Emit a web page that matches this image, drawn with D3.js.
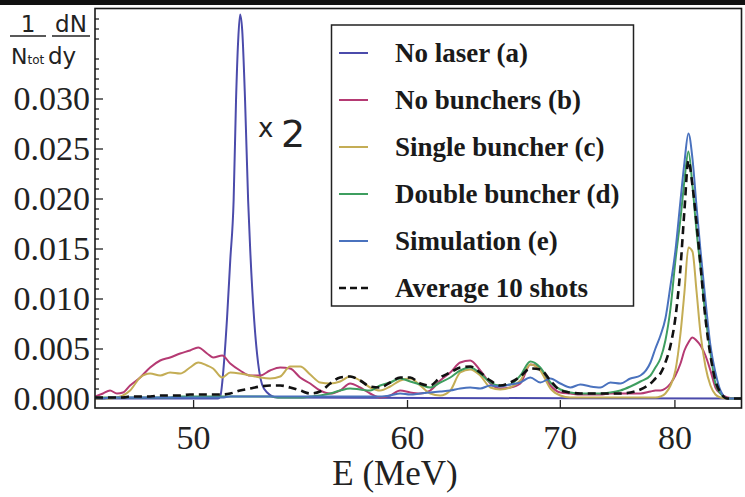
<!DOCTYPE html>
<html>
<head>
<meta charset="utf-8">
<script src="https://cdn.jsdelivr.net/npm/d3@7"></script>
<style>
  html, body { margin: 0; padding: 0; background: #fff; }
  svg { display: block; }
  .serif { font-family: "Liberation Serif", "Times New Roman", serif; fill: #222; }
  .legend-label { font-family: "Liberation Serif", "Times New Roman", serif; font-weight: bold; font-size: 27px; fill: #1a1a1a; }
  .sans { font-family: "DejaVu Sans", sans-serif; fill: #222; }
</style>
</head>
<body>
<svg id="chart" width="745" height="497"></svg>
<script>
// Electron energy spectra, E axis is spaced as 1/E
const energy = [46.45, 46.72, 46.96, 47.20, 47.41, 47.66, 48.02, 48.38, 48.75, 49.12,
  49.50, 49.88, 50.20, 50.55, 50.79, 51.16, 51.49, 51.90, 52.33, 52.76,
  53.19, 53.64, 54.09, 54.55, 55.02, 55.49, 55.98, 56.47, 56.97, 57.48,
  58.00, 58.53, 59.07, 59.62, 60.18, 60.75, 61.33, 61.92, 62.53, 63.14,
  63.77, 64.41, 65.07, 65.73, 66.41, 67.11, 67.82, 68.54, 69.29, 70.04,
  70.81, 71.60, 72.41, 73.24, 74.09, 74.95, 75.84, 76.75, 77.68, 78.15,
  78.63, 79.11, 79.61, 80.10, 80.61, 81.01, 81.42, 81.84, 82.26, 82.69,
  83.22, 83.76, 84.31, 84.87, 85.67, 86.59, 87.30];

const noBunchers = [0.0002, 0.0005, 0.0008, 0.0005, 0.0006, 0.0013, 0.0021, 0.0031, 0.0038, 0.0041,
  0.0045, 0.0048, 0.0051, 0.0045, 0.0041, 0.0043, 0.0035, 0.0028, 0.0023, 0.0023,
  0.0028, 0.0031, 0.0030, 0.0021, 0.0015, 0.0008, 0.0005, 0.0008, 0.0015, 0.0011,
  0.0005, 0.0001, 0.0003, 0.0008, 0.0006, 0.0005, 0.0008, 0.0018, 0.0026, 0.0036,
  0.0038, 0.0028, 0.0015, 0.0010, 0.0011, 0.0015, 0.0034, 0.0030, 0.0013, 0.0006,
  0.0005, 0.0004, 0.0004, 0.0004, 0.0005, 0.0005, 0.0005, 0.0005, 0.0007, 0.0008,
  0.0008, 0.0010, 0.0015, 0.0023, 0.0035, 0.0048, 0.0056, 0.0061, 0.0058, 0.0053,
  0.0043, 0.0028, 0.0011, 0.0005, 0.0001, 0, 0];

const singleBuncher = [0, 0, 0, 0.0001, 0.0003, 0.0008, 0.0021, 0.0025, 0.0023, 0.0026,
  0.0025, 0.0031, 0.0036, 0.0033, 0.0030, 0.0021, 0.0026, 0.0025, 0.0023, 0.0021,
  0.0020, 0.0022, 0.0032, 0.0032, 0.0024, 0.0016, 0.0015, 0.0017, 0.0022, 0.0018,
  0.0011, 0.0008, 0.0012, 0.0018, 0.0020, 0.0013, 0.0005, 0.0003, 0.0008, 0.0026,
  0.0029, 0.0023, 0.0011, 0.0009, 0.0011, 0.0018, 0.0034, 0.0028, 0.0010, 0.0003,
  0.0001, 0.0001, 0.0001, 0.0001, 0.0001, 0.0001, 0.0001, 0.0001, 0.0001, 0.0001,
  0.0002, 0.0005, 0.0013, 0.0028, 0.0065, 0.0106, 0.0151, 0.0147, 0.0108, 0.0065,
  0.0032, 0.0013, 0.0004, 0.0001, 0, 0, 0];

const doubleBuncher = [0.0001, 0.0001, 0.0001, 0.0001, 0.0001, 0.0001, 0.0001, 0.0001, 0.0001, 0.0001,
  0.0002, 0.0002, 0.0002, 0.0002, 0.0002, 0.0002, 0.0002, 0.0002, 0.0002, 0.0002,
  0.0002, 0.0001, 0.0001, 0.0001, 0.0002, 0.0003, 0.0005, 0.0008, 0.0010, 0.0009,
  0.0008, 0.0013, 0.0016, 0.0020, 0.0017, 0.0014, 0.0011, 0.0016, 0.0021, 0.0028,
  0.0031, 0.0025, 0.0016, 0.0013, 0.0014, 0.0023, 0.0037, 0.0031, 0.0016, 0.0009,
  0.0006, 0.0005, 0.0005, 0.0005, 0.0006, 0.0008, 0.0012, 0.0017, 0.0023, 0.0031,
  0.0040, 0.0058, 0.0090, 0.0138, 0.0180, 0.0218, 0.0247, 0.0213, 0.0168, 0.0131,
  0.0083, 0.0046, 0.0015, 0.0005, 0, 0, 0];

const simulation = [0.0001, 0, 0.0001, 0.0001, 0.0001, 0.0001, 0.0001, 0.0001, 0.0001, 0.0001,
  0.0001, 0.0001, 0.0001, 0.0001, 0.0001, 0.0001, 0.0002, 0.0002, 0.0002, 0.0002,
  0.0002, 0.0002, 0.0002, 0.0002, 0.0002, 0.0002, 0.0002, 0.0002, 0.0002, 0.0002,
  0.0002, 0.0002, 0.0003, 0.0005, 0.0004, 0.0005, 0.0006, 0.0007, 0.0008, 0.0010,
  0.0011, 0.0010, 0.0013, 0.0012, 0.0014, 0.0016, 0.0021, 0.0016, 0.0020, 0.0015,
  0.0011, 0.0014, 0.0012, 0.0011, 0.0016, 0.0015, 0.0020, 0.0023, 0.0036, 0.0050,
  0.0063, 0.0080, 0.0113, 0.0148, 0.0198, 0.0236, 0.0265, 0.0240, 0.0193, 0.0148,
  0.0098, 0.0053, 0.0026, 0.0008, 0, 0, 0];

const average10 = [0.0001, 0.0001, 0.0001, 0.0001, 0.0001, 0.0002, 0.0002, 0.0002, 0.0003, 0.0003,
  0.0003, 0.0004, 0.0004, 0.0004, 0.0004, 0.0004, 0.0005, 0.0008, 0.0010, 0.0012,
  0.0013, 0.0013, 0.0011, 0.0008, 0.0005, 0.0007, 0.0015, 0.0021, 0.0022, 0.0018,
  0.0012, 0.0011, 0.0016, 0.0021, 0.0021, 0.0015, 0.0013, 0.0021, 0.0026, 0.0031,
  0.0032, 0.0026, 0.0018, 0.0013, 0.0016, 0.0022, 0.0030, 0.0029, 0.0018, 0.0008,
  0.0006, 0.0005, 0.0005, 0.0005, 0.0005, 0.0005, 0.0006, 0.0009, 0.0015, 0.0020,
  0.0025, 0.0036, 0.0053, 0.0081, 0.0131, 0.0188, 0.0238, 0.0213, 0.0176, 0.0133,
  0.0080, 0.0043, 0.0018, 0.0006, 0, 0, 0];

// no laser curve has its own, finer grid around the narrow peak
const noLaserEnergy = [46.45, 50.99, 51.08, 51.24, 51.36, 51.49, 51.63, 51.73, 51.82, 51.90,
  51.99, 52.11, 52.24, 52.33, 52.50, 52.67, 52.84, 53.06, 53.50, 87.30];
const noLaser = [0, 0, 0.0002, 0.0038, 0.0081, 0.0138, 0.0198, 0.0298, 0.0358, 0.0384,
  0.0368, 0.0298, 0.0198, 0.0148, 0.0078, 0.0035, 0.0014, 0.0006, 0.0001, 0];

const xTicks = [50, 60, 70, 80];
const yTicks = [0, 0.005, 0.010, 0.015, 0.020, 0.025, 0.030];

const legendLabels = ['No laser (a)', 'No bunchers (b)', 'Single buncher (c)',
  'Double buncher (d)', 'Simulation (e)', 'Average 10 shots'];

const COLORS = ['#4b4bab', '#b53a73', '#c4ad55', '#3e9e5f', '#4a72be', '#111'];

const WIDTH = 745;
const LEFT = 95, RIGHT = 741.5, TOP = 8.5, BOTTOM = 408;

const svg = d3.select('#chart');

const x = d3.scalePow().exponent(-1).domain([46.45, 87.3]).range([LEFT, RIGHT]);
const y = d3.scaleLinear().domain([0, 0.039]).range([398.5, TOP]);

// black strip at the very top
svg.append('rect').attr('x', 0).attr('y', 0).attr('width', WIDTH).attr('height', 5).attr('fill', '#111');

svg.append('clipPath').attr('id', 'plot-clip')
  .append('rect')
  .attr('x', LEFT).attr('y', TOP)
  .attr('width', RIGHT - LEFT).attr('height', BOTTOM - TOP);

// axes, ticks pointing inside the frame
const yAxis = svg.append('g')
  .attr('transform', `translate(${LEFT},0)`)
  .call(d3.axisLeft(y).tickValues(yTicks).tickSize(-8).tickPadding(5).tickFormat(d3.format('.3f')));

const minorY = d3.range(1, 39).map(i => i / 1000).filter(v => Math.round(v * 1000) % 5 !== 0);
const yMinor = svg.append('g')
  .attr('transform', `translate(${LEFT},0)`)
  .call(d3.axisLeft(y).tickValues(minorY).tickSize(-4).tickFormat(''));

const xAxis = svg.append('g')
  .attr('transform', `translate(0,${BOTTOM})`)
  .call(d3.axisBottom(x).tickValues(xTicks).tickSize(-8).tickPadding(17).tickFormat(d3.format('d')));

[yAxis, yMinor, xAxis].forEach(g => {
  g.select('.domain').remove();
  g.selectAll('line').attr('stroke', '#222').attr('stroke-width', 1.3);
  g.selectAll('text')
    .attr('class', 'serif')
    .attr('font-family', null)
    .style('font-size', '34px')
    .attr('fill', '#222');
});

// curves
const plot = svg.append('g').attr('clip-path', 'url(#plot-clip)');

const series = [
  { xs: noLaserEnergy, ys: noLaser, color: COLORS[0] },
  { xs: energy, ys: noBunchers, color: COLORS[1] },
  { xs: energy, ys: singleBuncher, color: COLORS[2] },
  { xs: energy, ys: doubleBuncher, color: COLORS[3] },
  { xs: energy, ys: simulation, color: COLORS[4] },
  { xs: energy, ys: average10, color: COLORS[5], dash: '8,5', width: 2.6 }
];

const line = d3.line()
  .x(d => x(d[0]))
  .y(d => y(d[1]))
  .curve(d3.curveMonotoneX);

series.forEach(s => {
  plot.append('path')
    .datum(s.xs.map((e, i) => [e, s.ys[i]]))
    .attr('fill', 'none')
    .attr('stroke', s.color)
    .attr('stroke-width', s.width || 2)
    .attr('stroke-linejoin', 'round')
    .attr('stroke-dasharray', s.dash || null)
    .attr('d', line);
});

// frame
svg.append('rect')
  .attr('x', LEFT).attr('y', TOP)
  .attr('width', RIGHT - LEFT).attr('height', BOTTOM - TOP)
  .attr('fill', 'none').attr('stroke', '#1a1a1a').attr('stroke-width', 1.6);

// x2 note next to the no-laser peak
svg.append('text').attr('class', 'sans').attr('x', 258).attr('y', 137).style('font-size', '26px').text('x');
svg.append('text').attr('class', 'sans').attr('x', 281).attr('y', 147).style('font-size', '38px').text('2');

// legend
const legend = svg.append('g');
legend.append('rect')
  .attr('x', 331.5).attr('y', 25)
  .attr('width', 302).attr('height', 281)
  .attr('fill', '#fff').attr('stroke', '#222').attr('stroke-width', 1.5);

legendLabels.forEach((label, i) => {
  const cy = 53 + i * 47;
  legend.append('line')
    .attr('x1', 339).attr('x2', 368)
    .attr('y1', cy).attr('y2', cy)
    .attr('stroke', COLORS[i])
    .attr('stroke-width', i === 5 ? 2.6 : 2)
    .attr('stroke-dasharray', i === 5 ? '7,4' : null);
  legend.append('text')
    .attr('class', 'legend-label')
    .attr('x', 395).attr('y', cy + 9)
    .text(label);
});

// axis titles
svg.append('text').attr('class', 'sans').attr('x', 28).attr('y', 32)
  .attr('text-anchor', 'middle').style('font-size', '23px').text('1');
svg.append('line').attr('x1', 10).attr('x2', 46).attr('y1', 36).attr('y2', 36)
  .attr('stroke', '#222').attr('stroke-width', 1.6);
svg.append('text').attr('class', 'sans').attr('x', 71).attr('y', 32)
  .attr('text-anchor', 'middle').style('font-size', '23px').text('dN');
svg.append('line').attr('x1', 52).attr('x2', 90).attr('y1', 36).attr('y2', 36)
  .attr('stroke', '#222').attr('stroke-width', 1.6);

const ntot = svg.append('text').attr('class', 'sans').attr('x', 11).attr('y', 64).style('font-size', '22px');
ntot.append('tspan').text('N');
ntot.append('tspan').style('font-size', '12px').text('tot');
svg.append('text').attr('class', 'sans').attr('x', 48).attr('y', 64).style('font-size', '23px').text('dy');

svg.append('text').attr('class', 'serif')
  .attr('x', 395).attr('y', 485)
  .attr('text-anchor', 'middle')
  .style('font-size', '35px')
  .text('E (MeV)');
</script>
</body>
</html>
